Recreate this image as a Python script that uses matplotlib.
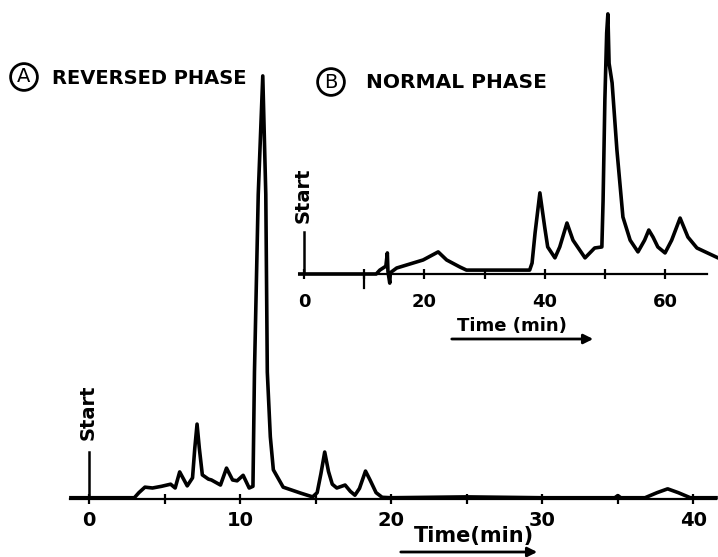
import matplotlib
matplotlib.use('Agg')
import matplotlib.pyplot as plt

# ---- (A) reversed phase chromatogram, relative response (main peak = 100) ----
rp_time = [-1.2, 1.0, 3.0, 3.3, 3.7, 4.2, 4.8, 5.4, 5.7, 6.0, 6.5, 6.85, 7.0, 7.15, 7.3, 7.5,
           7.9, 8.1, 8.7, 9.1, 9.5, 9.8, 10.2, 10.6, 10.85, 10.95, 11.2, 11.5, 11.7, 11.8,
           12.0, 12.2, 12.85, 14.0, 14.8, 15.1, 15.35, 15.6, 15.85, 16.1, 16.4, 16.95,
           17.3, 17.6, 17.9, 18.3, 18.6, 19.0, 19.4, 20.0, 25.0, 30.0, 34.8, 35.0, 35.2,
           36.8, 37.6, 38.3, 39.0, 39.8, 41.5]
rp_signal = [0.3, 0.3, 0.3, 1.5, 2.8, 2.6, 3.0, 3.5, 2.6, 6.4, 3.1, 5.0, 12.0, 17.7, 12.0, 5.7,
             4.7, 4.5, 3.3, 7.3, 4.5, 4.3, 5.6, 2.6, 3.0, 30.0, 72.0, 100.0, 72.0, 30.0,
             14.7, 6.9, 2.8, 1.4, 0.5, 1.5, 6.0, 11.1, 6.5, 3.5, 2.6, 3.3,
             1.8, 0.9, 2.5, 6.6, 4.5, 1.5, 0.4, 0.3, 0.5, 0.3, 0.3, 0.8, 0.3,
             0.3, 1.5, 2.4, 1.5, 0.3, 0.3]
rp_ticks = [0, 10, 20, 30, 40]

# ---- (B) normal phase chromatogram ----
np_time = [-0.7, 5.0, 10.0, 12.0, 12.6, 13.6, 13.85, 13.95, 14.25, 14.35, 15.4, 17.1, 19.8,
           22.3, 23.7, 25.9, 27.0, 32.0, 37.5, 37.9, 38.4, 39.2, 40.0, 40.5, 41.7, 42.5,
           43.7, 44.7, 46.7, 48.3, 49.5, 49.7, 50.0, 50.3, 50.5, 50.7, 51.2, 52.0, 53.0,
           54.2, 55.5, 56.6, 57.3, 58.0, 58.8, 60.0, 61.1, 62.5, 63.8, 65.3, 68.8]
np_signal = [0.0, 0.0, 0.0, 0.0, 1.5, 3.0, 8.1, 1.0, -3.5, 0.5, 2.3, 3.5, 5.4,
             8.5, 5.4, 2.7, 1.5, 1.5, 1.5, 4.2, 15.8, 31.2, 18.0, 10.4, 6.2, 10.4,
             19.6, 13.0, 6.2, 10.0, 10.4, 28.0, 67.0, 92.7, 100.0, 81.0, 73.5, 47.7, 21.9,
             13.0, 8.5, 13.0, 16.9, 14.2, 10.4, 8.1, 13.0, 21.5, 14.2, 10.0, 6.2]
np_ticks = [0, 20, 40, 60]
np_minor = [10, 30, 50]

W, H = 718, 557
def fx(px): return px / W
def fy(py): return 1 - py / H

fig = plt.figure(figsize=(W / 100, H / 100), dpi=100)

def style_axis(ax, lsize):
    for s in ['top', 'right', 'left']:
        ax.spines[s].set_visible(False)
    ax.spines['bottom'].set_linewidth(1.6)
    ax.set_yticks([])
    ax.patch.set_visible(False)
    ax.tick_params(axis='x', which='both', direction='inout', length=7, width=1.6,
                   labelsize=lsize)
    for lab in ax.get_xticklabels():
        lab.set_fontweight('bold')

# panel A
axA = fig.add_axes([fx(70), fy(499), (716 - 70) / W, (499 - 59) / H])
axA.plot(rp_time, rp_signal, color='black', lw=2.6, clip_on=False, solid_joinstyle='round')
axA.set_xlim(-1.26, 41.5)
axA.set_ylim(0, 104)
axA.set_xticks(rp_ticks)
axA.set_xticks([5, 15, 25, 35], minor=True)
style_axis(axA, 14)
axA.tick_params(axis='x', pad=5)
axA.plot([0, 0], [0, 11.1], color='black', lw=1.8)
axA.text(-0.07, 20.6, 'Start', rotation=90, ha='center', va='center', fontsize=14, fontweight='bold')

# panel B
axB = fig.add_axes([fx(296), fy(274), (718 - 296) / W, (274 - 10) / H])
axB.plot(np_time, np_signal, color='black', lw=2.6, clip_on=False, solid_joinstyle='round')
axB.set_xlim(-1.33, 68.8)
axB.set_ylim(0, 101.5)
axB.spines['bottom'].set_bounds(-0.7, 66.9)
axB.set_xticks(np_ticks)
axB.set_xticks(np_minor, minor=True)
style_axis(axB, 13)
axB.tick_params(axis='x', pad=10)
axB.plot([10, 10], [0, -5.5], color='black', lw=1.6, clip_on=False)
axB.plot([0, 0], [0, 16.2], color='black', lw=1.8)
axB.text(-0.1, 30.4, 'Start', rotation=90, ha='center', va='center', fontsize=14, fontweight='bold')

# titles
circ = dict(boxstyle='circle,pad=0.2', fc='none', ec='black', lw=2)
fig.text(fx(24), fy(77), 'A', fontsize=14, ha='center', va='center', bbox=circ)
fig.text(fx(52), fy(78), 'REVERSED PHASE', fontsize=14, fontweight='bold', ha='left', va='center')
fig.text(fx(331), fy(82), 'B', fontsize=14, ha='center', va='center', bbox=circ)
fig.text(fx(366), fy(82), 'NORMAL PHASE', fontsize=14.5, fontweight='bold', ha='left', va='center')

# time labels with arrows
fig.text(fx(474), fy(536), 'Time(min)', ha='center', va='center', fontsize=15, fontweight='bold')
fig.text(fx(512), fy(326), 'Time (min)', ha='center', va='center', fontsize=13, fontweight='bold')
arrow = dict(arrowstyle='-|>', lw=2, color='black', mutation_scale=14)
fig.add_artist(plt.Annotation('', xy=(fx(540), fy(552)), xytext=(fx(398), fy(552)),
                              xycoords='figure fraction', arrowprops=arrow))
fig.add_artist(plt.Annotation('', xy=(fx(596), fy(339)), xytext=(fx(449), fy(339)),
                              xycoords='figure fraction', arrowprops=arrow))

fig.savefig('out.png', dpi=100)
